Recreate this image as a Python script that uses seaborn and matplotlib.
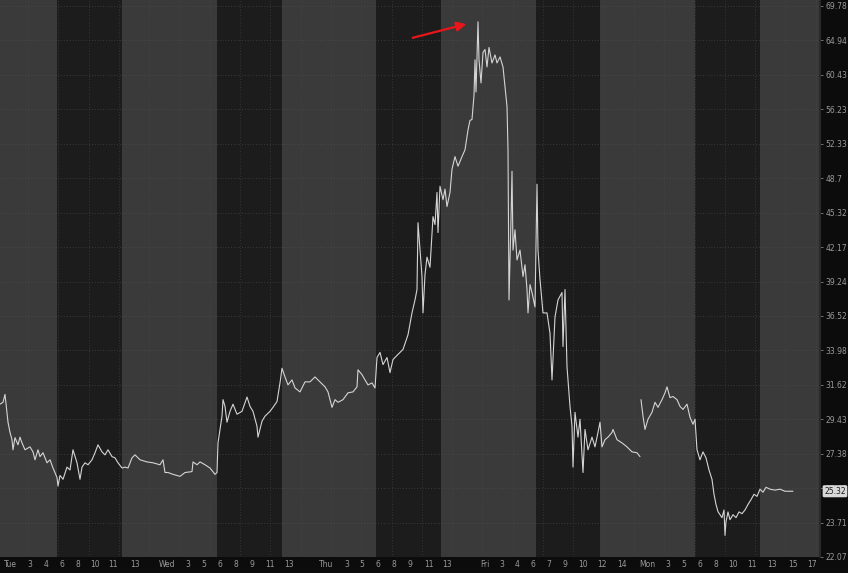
import numpy as np
import pandas as pd
import seaborn as sns
import matplotlib.pyplot as plt

# bar index (time) and price, Tue -> Fri session
bars_a = [0, 3, 5, 7, 8, 10, 12, 13, 15, 18, 20, 22, 25, 30, 33, 35, 38, 40, 43, 47,
          50, 53, 57, 58, 60, 63, 67, 70, 73, 77, 80, 82, 85, 88, 92, 95, 98, 102, 105, 108,
          112, 115, 118, 122, 125, 128, 132, 135, 140, 147, 153, 160, 163, 165, 168, 173, 180, 185, 192, 193,
          197, 200, 205, 210, 215, 217, 218, 220, 222, 223, 225, 227, 230, 233, 237, 242, 247, 250, 253, 257,
          258, 262, 265, 270, 273, 277, 280, 282, 285, 288, 292, 295, 300, 305, 310, 315, 320, 325, 328, 332,
          335, 338, 343, 348, 353, 357, 358, 362, 365, 368, 372, 375, 377, 380, 383, 387, 390, 393, 398, 403,
          408, 412, 415, 417, 418, 420, 422, 423, 425, 427, 430, 433, 435, 437, 438, 440, 443, 445, 447, 450,
          452, 455, 458, 462, 465, 468, 470, 472, 474, 475, 476, 478, 479, 481, 483, 485, 487, 489, 492, 495,
          497, 500, 503, 505, 507, 508, 509, 511, 512, 513, 515, 517, 520, 523, 525, 527, 528, 530, 532, 535,
          537, 538, 540, 543, 547, 550, 552, 555, 558, 562, 563, 565, 567, 570, 572, 573, 575, 578, 580, 583,
          585, 588, 592, 595, 598, 600, 602, 605, 608, 612, 613, 617, 622, 627, 632, 637, 640]
price_a = [30.37, 30.49, 31.0, 29.86, 29.25, 28.63, 28.2, 27.61, 28.32, 27.9, 28.35, 28.01, 27.61, 27.78, 27.49, 27.04, 27.61, 27.22, 27.44, 26.87,
           27.04, 26.58, 26.06, 25.59, 26.17, 25.96, 26.63, 26.47, 27.61, 26.87, 25.96, 26.63, 26.87, 26.76, 27.04, 27.44, 27.9, 27.49, 27.32, 27.61,
           27.22, 27.15, 26.87, 26.58, 26.63, 26.58, 27.15, 27.32, 27.04, 26.92, 26.87, 26.76, 27.04, 26.33, 26.33, 26.23, 26.12, 26.33, 26.38, 26.92,
           26.76, 26.92, 26.76, 26.58, 26.23, 26.33, 28.01, 28.81, 29.62, 30.66, 30.23, 29.25, 29.92, 30.37, 29.74, 29.92, 30.83, 30.23, 29.92, 29.0,
           28.35, 29.31, 29.62, 29.92, 30.17, 30.54, 31.75, 32.74, 32.15, 31.62, 31.95, 31.42, 31.16, 31.82, 31.82, 32.15, 31.82, 31.49, 31.16, 30.17,
           30.66, 30.49, 30.66, 31.1, 31.16, 31.49, 32.63, 32.3, 31.95, 31.62, 31.75, 31.42, 33.48, 33.84, 32.99, 33.48, 32.44, 33.34, 33.7, 34.05,
           35.11, 36.75, 37.76, 38.59, 44.37, 41.9, 39.65, 36.75, 39.81, 41.29, 40.43, 44.94, 44.2, 47.27, 43.47, 47.89, 46.56, 47.6, 45.89, 47.27,
           49.62, 50.94, 49.93, 50.94, 51.67, 53.86, 54.95, 55.05, 57.9, 62.36, 58.3, 67.52, 62.36, 59.42, 63.32, 63.72, 61.44, 63.99, 61.95, 63.0,
           61.95, 62.74, 61.44, 58.91, 56.58, 51.67, 37.76, 44.66, 49.41, 41.9, 43.72, 41.05, 41.9, 39.65, 40.64, 38.59, 36.75, 38.99, 38.35, 37.21,
           48.09, 41.9, 39.4, 36.75, 36.75, 35.22, 31.95, 36.44, 37.76, 38.35, 34.26, 38.59, 32.84, 30.23, 29.0, 26.63, 29.86, 28.35, 29.43, 26.33,
           28.81, 27.61, 28.35, 27.78, 28.63, 29.25, 27.78, 28.2, 28.35, 28.63, 28.81, 28.2, 28.01, 27.78, 27.49, 27.44, 27.22]

# Monday session
bars_b = [641, 643, 645, 648, 652, 655, 658, 662, 665, 667, 670, 673, 677, 680, 683, 687, 690, 693, 695, 697,
          700, 703, 706, 709, 712, 714, 716, 718, 720, 722, 724, 725, 726, 728, 730, 733, 736, 739, 742, 745,
          748, 751, 754, 757, 760, 763, 766, 770, 775, 780, 785, 790, 793]
price_b = [30.66, 29.62, 28.81, 29.43, 29.86, 30.49, 30.17, 30.66, 31.1, 31.49, 30.79, 30.86, 30.66, 30.23, 30.04, 30.37, 29.55, 29.12, 29.43, 27.61,
           27.04, 27.49, 27.15, 26.47, 25.96, 25.16, 24.63, 24.26, 24.11, 23.96, 24.35, 23.09, 23.76, 24.25, 23.86, 24.11, 23.96, 24.25, 24.16, 24.35,
           24.63, 24.88, 25.16, 25.05, 25.43, 25.27, 25.53, 25.43, 25.38, 25.43, 25.32, 25.32, 25.32]

last_price = "25.32"

# session shading (start, end, shade)
band_start = [0, 57, 122, 217, 282, 376, 441, 536, 600, 695, 760]
band_end = [57, 122, 217, 282, 376, 441, 536, 600, 695, 760, 820]
band_light = [True, False, True, False, True, False, True, False, True, False, True]

y_ticks = [22.07, 23.71, 25.48, 27.38, 29.43, 31.62, 33.98, 36.52, 39.24, 42.17,
           45.32, 48.7, 52.33, 56.23, 60.43, 64.94, 69.78]
y_labels = ["22.07", "23.71", "25.48", "27.38", "29.43", "31.62", "33.98", "36.52", "39.24", "42.17",
            "45.32", "48.7", "52.33", "56.23", "60.43", "64.94", "69.78"]

x_ticks = [10, 30, 46, 62, 78, 95, 113, 135, 167, 188, 204, 220, 236, 252, 270, 289,
           326, 347, 362, 378, 394, 410, 429, 447, 485, 502, 517, 533, 549, 565, 583, 602, 622,
           647, 668, 684, 700, 716, 733, 752, 772, 793, 812]
x_labels = ["Tue", "3", "4", "6", "8", "10", "11", "13", "Wed", "3", "5", "6", "8", "9", "11", "13",
            "Thu", "3", "5", "6", "8", "9", "11", "13", "Fri", "3", "4", "6", "7", "9", "10", "12", "14",
            "Mon", "3", "5", "6", "8", "10", "11", "13", "15", "17"]

sns.set_style("dark")
plt.rcParams['font.family'] = ['DejaVu Sans']

fig = plt.figure(figsize=(8.48, 5.73), dpi=100, facecolor="#0c0c0c")
ax = fig.add_axes([0, 16 / 573, 820 / 848, 557 / 573])
ax.set_facecolor("#1c1c1c")

for s, e, light in zip(band_start, band_end, band_light):
    ax.axvspan(s, e, color="#3a3a3a" if light else "#1c1c1c", lw=0, zorder=0)

df_a = pd.DataFrame({"bar": bars_a, "price": price_a})
df_b = pd.DataFrame({"bar": bars_b, "price": price_b})
for df in (df_a, df_b):
    sns.lineplot(data=df, x="bar", y="price", ax=ax, color="#d4d4d4",
                 linewidth=0.8, estimator=None, sort=False, zorder=3)

ax.set_yscale("log")
ax.set_ylim(22.07, 70.66)
ax.set_xlim(0, 820)

ax.yaxis.tick_right()
ax.set_yticks(y_ticks)
ax.set_yticklabels(y_labels)
ax.minorticks_off()
ax.set_xticks(x_ticks)
ax.set_xticklabels(x_labels)
ax.tick_params(axis="y", colors="#9a9a9a", labelsize=5.5, length=2, pad=2, width=0.5)
ax.tick_params(axis="x", colors="#9a9a9a", labelsize=5.5, length=2, pad=2, width=0.5, direction="in")
ax.set_xlabel("")
ax.set_ylabel("")

# dotted grid
ax.grid(False)
for yt in y_ticks:
    ax.axhline(yt, color="#555555", lw=0.5, ls=(0, (1, 3)), zorder=1)
for xg in np.arange(28, 820, 30.3):
    ax.axvline(xg, color="#4a4a4a", lw=0.5, ls=(0, (1, 3)), zorder=1)

for side in ["top", "left", "bottom"]:
    ax.spines[side].set_visible(False)
ax.spines["right"].set_color("#2a2a2a")
ax.spines["right"].set_linewidth(1.5)

# last price box
ax.annotate(last_price, xy=(1.0, price_b[-1]), xycoords=("axes fraction", "data"),
            xytext=(3, 0), textcoords="offset points", va="center", ha="left",
            fontsize=5.5, color="#1a1a1a",
            bbox=dict(boxstyle="round,pad=0.2", fc="#d8d8d8", ec="none"))

# red arrow at the peak
ax.annotate("", xy=(469, 67.3), xytext=(410, 65.2),
            arrowprops=dict(arrowstyle="-|>", color="#e8161a", lw=1.6, mutation_scale=14))

fig.savefig("out.png", dpi=100, facecolor=fig.get_facecolor())
